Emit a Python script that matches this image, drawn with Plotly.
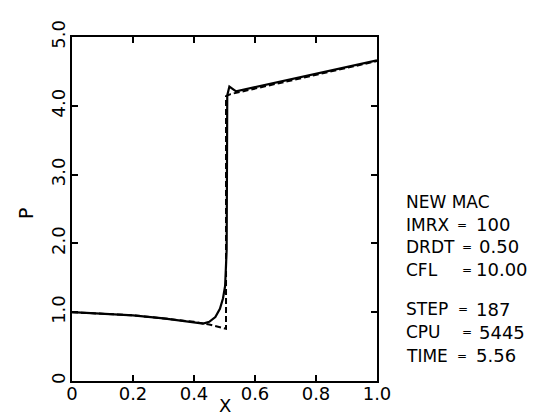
import plotly.graph_objects as go

# ---- data ----
x_solid = [0.0, 0.1, 0.2, 0.3, 0.4, 0.43, 0.45, 0.47, 0.485, 0.495, 0.502, 0.507, 0.509, 0.516, 0.538, 0.6, 0.7, 0.8, 0.9, 1.0]
p_solid = [1.0, 0.98, 0.955, 0.91, 0.86, 0.835, 0.86, 0.93, 1.05, 1.2, 1.38, 1.9, 4.15, 4.28, 4.21, 4.27, 4.37, 4.47, 4.57, 4.66]

x_dash = [0.0, 0.1, 0.2, 0.3, 0.4, 0.45, 0.505, 0.505, 0.52, 0.55, 0.6, 0.7, 0.8, 0.9, 1.0]
p_dash = [1.0, 0.98, 0.955, 0.91, 0.86, 0.82, 0.76, 4.14, 4.17, 4.2, 4.25, 4.36, 4.46, 4.56, 4.65]

x_ticks = [0, 0.2, 0.4, 0.6, 0.8, 1.0]
x_ticktext = ["0", "0.2", "0.4", "0.6", "0.8", "1.0"]
y_ticks = [0, 1, 2, 3, 4, 5]
y_ticktext = ["0", "1.0", "2.0", "3.0", "4.0", "5.0"]

info_labels = ["IMRX", "DRDT", "CFL", "STEP", "CPU", "TIME"]
info_values = ["100", "0.50", "10.00", "187", "5445", "5.56"]
info_title = "NEW MAC"

# ---- layout geometry (pixels) ----
W, H = 537, 417
L, R, T, B = 64, 168, 19, 44
PW = W - L - R
PH = H - T - B
FONT = "DejaVu Sans, Verdana, sans-serif"


def px_x(px):
    return (px - L) / PW


def px_y(py):
    return (H - B - py) / PH


fig = go.Figure()
fig.add_trace(go.Scatter(x=x_dash, y=p_dash, mode="lines",
                         line=dict(color="black", width=2, dash="6px,3px"),
                         showlegend=False, hoverinfo="skip"))
fig.add_trace(go.Scatter(x=x_solid, y=p_solid, mode="lines",
                         line=dict(color="black", width=2.2),
                         showlegend=False, hoverinfo="skip"))

annotations = []
# axis titles
annotations.append(dict(text="X", x=px_x(217), y=px_y(398), xref="paper", yref="paper",
                        xanchor="center", yanchor="middle", showarrow=False,
                        font=dict(size=18, color="black", family=FONT)))
annotations.append(dict(text="P", x=px_x(18), y=px_y(200), xref="paper", yref="paper",
                        xanchor="center", yanchor="middle", showarrow=False, textangle=-90,
                        font=dict(size=19, color="black", family=FONT)))

# info block
annotations.append(dict(text=info_title, x=px_x(396), y=px_y(188.5), xref="paper", yref="paper",
                        xanchor="left", yanchor="middle", showarrow=False,
                        font=dict(size=17, color="black", family=FONT)))
rows_y = [212, 235, 258.5, 299, 323, 347]
eq_x = [454, 459, 459, 455, 459, 454]
val_x = [466, 469, 466, 466, 469, 466]
for lab, val, yy, ex, vx in zip(info_labels, info_values, rows_y, eq_x, val_x):
    annotations.append(dict(text=lab, x=px_x(396), y=px_y(yy), xref="paper", yref="paper",
                            xanchor="left", yanchor="middle", showarrow=False,
                            font=dict(size=17, color="black", family=FONT)))
    annotations.append(dict(text="=", x=px_x(ex), y=px_y(yy), xref="paper", yref="paper",
                            xanchor="center", yanchor="middle", showarrow=False,
                            font=dict(size=12, color="black", family=FONT)))
    annotations.append(dict(text=val, x=px_x(vx), y=px_y(yy), xref="paper", yref="paper",
                            xanchor="left", yanchor="middle", showarrow=False,
                            font=dict(size=18, color="black", family=FONT)))

axis_common = dict(showline=True, linecolor="black", linewidth=1.5, mirror="ticks",
                   ticks="inside", ticklen=6, tickwidth=1.5, tickcolor="black",
                   showgrid=False, zeroline=False,
                   tickfont=dict(size=18, color="black", family=FONT))

fig.update_layout(
    width=W, height=H,
    margin=dict(l=L, r=R, t=T, b=B, pad=0),
    paper_bgcolor="white", plot_bgcolor="white",
    xaxis=dict(range=[0, 1.0], tickvals=x_ticks, ticktext=x_ticktext,
               ticklabelstandoff=-4, **axis_common),
    yaxis=dict(range=[0, 5.0], tickvals=y_ticks, ticktext=y_ticktext, tickangle=-90,
               ticklabelstandoff=-2, **axis_common),
    annotations=annotations,
    showlegend=False,
)

fig.write_html("out.html")
